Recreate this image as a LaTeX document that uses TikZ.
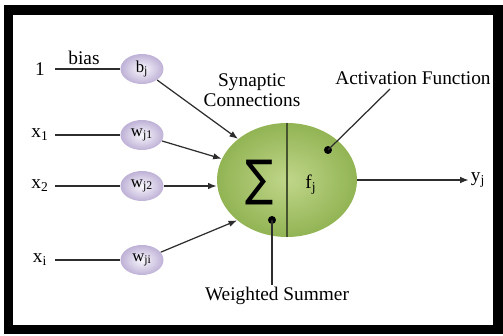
\documentclass[tikz,border=0pt]{standalone}
\usepackage{fontspec}
\setmainfont{Liberation Serif}
\newfontfamily\sigmafont{DejaVu Sans}
\usepackage{tikz}
\usetikzlibrary{positioning,arrows.meta,shapes.geometric}

\definecolor{somaedge}{RGB}{146,180,84}
\definecolor{somamid}{RGB}{192,214,138}
\definecolor{wedge}{RGB}{190,177,214}
\definecolor{wmid}{RGB}{250,248,253}
\definecolor{wirecol}{RGB}{45,45,45}
\definecolor{splitcol}{RGB}{70,85,45}

\begin{document}
\begin{tikzpicture}[
  font=\fontsize{11}{11.5}\selectfont,
  every node/.style={align=center, inner sep=1pt},
  inlbl/.style ={minimum width=6mm},
  wcirc/.style ={ellipse, minimum width=8.6mm, minimum height=6mm, inner sep=0pt,
                 inner color=wmid, outer color=wedge, font=\fontsize{9.5}{10}\selectfont},
  soma/.style  ={ellipse, minimum width=28mm, minimum height=22.8mm,
                 inner color=somamid, outer color=somaedge},
  dotmark/.style={circle, fill=black, minimum size=1.6mm, inner sep=0pt},
  wire/.style  ={line width=0.7pt, draw=wirecol},
  arr/.style   ={wire, -{Latex[length=1.7mm,width=1.3mm]}}
]
\useasboundingbox (0,0) rectangle (10.06,6.72);

% --- frame ---
\draw[line width=1.9mm] (0.17,0.13) rectangle (9.96,6.52);

% --- inputs and weights ---
\node[inlbl] (one) at (0.80,5.34) {1};
\node[inlbl] (x1)  at (0.80,4.02) {x\textsubscript{1}};
\node[inlbl] (x2)  at (0.80,3.00) {x\textsubscript{2}};
\node[inlbl] (xi)  at (0.80,1.52) {x\textsubscript{i}};

\node[wcirc] (bj)  at (2.84,5.34) {b\textsubscript{j}};
\node[wcirc] (wj1) at (2.84,4.02) {w\textsubscript{j1}};
\node[wcirc] (wj2) at (2.84,3.00) {w\textsubscript{j2}};
\node[wcirc] (wji) at (2.84,1.52) {w\textsubscript{ji}};

\node (bias) at (1.68,5.56) {bias};

% --- neuron body ---
\node[soma] (sum) at (5.74,3.12) {};
\draw[line width=0.8pt, splitcol] (sum.north) -- (sum.south);
\node (sigma) at (5.20,3.06) {\sigmafont\fontsize{28}{28}\selectfont\scalebox{0.85}[1]{∑}};
\node (fj) at (6.22,3.02) {f\textsubscript{j}};
\node (yj) at (9.56,3.12) {y\textsubscript{j}};

% --- annotations ---
\node (syn) at (5.04,4.92) {Synaptic\\Connections};
\node (act) at (8.26,5.16) {Activation Function};
\node (wsum) at (5.54,0.80) {Weighted Summer};
\node[dotmark] (fdot) at (6.56,3.72) {};
\node[dotmark] (sdot) at (5.44,2.32) {};
\coordinate (actend) at (7.80,4.94);

% --- wires ---
\draw[wire] (one) -- (bj);
\draw[wire] (x1)  -- (wj1);
\draw[wire] (x2)  -- (wj2);
\draw[wire] (xi)  -- (wji);

\draw[arr] (bj)  -- (sum.140);
\draw[arr] (wj1) -- (sum.162);
\draw[arr] (wj2) -- (wj2 -| sum.west);
\draw[arr] (wji) -- (sum.219);
\draw[arr] (sum.east) -- (yj);

\draw[wire] (fdot.center) -- (actend);
\draw[wire] (sdot.center) -- (sdot |- wsum.north);

\end{tikzpicture}
\end{document}
